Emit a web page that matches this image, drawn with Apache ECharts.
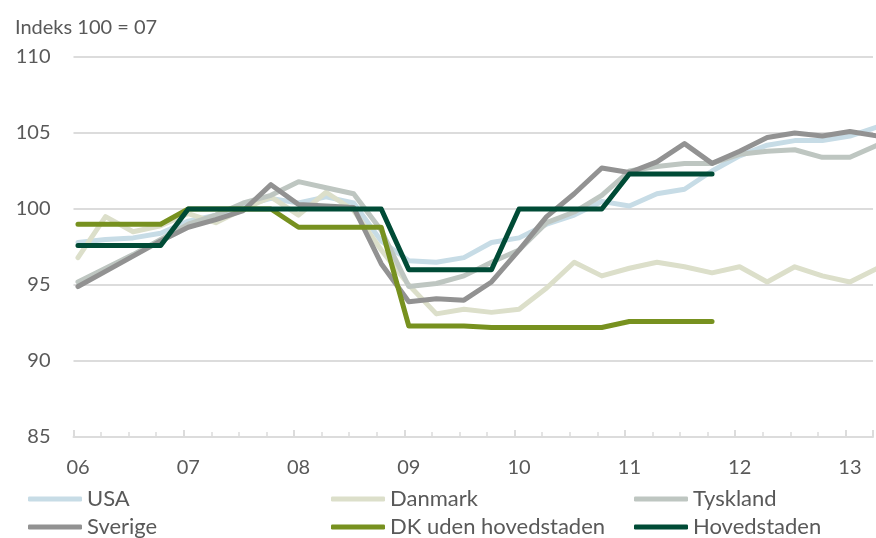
<!DOCTYPE html>
<html><head><meta charset="utf-8">
<script src="https://cdn.jsdelivr.net/npm/echarts@6/dist/echarts.min.js"></script>
<style>html,body{margin:0;padding:0;background:#fff}#c{width:876px;height:538px}</style>
</head><body><div id="c"></div>
<script>
// quarterly observations, 2006 Q1 .. 2013 Q2
const quarters = [
  '06K1','06K2','06K3','06K4','07K1','07K2','07K3','07K4',
  '08K1','08K2','08K3','08K4','09K1','09K2','09K3','09K4',
  '10K1','10K2','10K3','10K4','11K1','11K2','11K3','11K4',
  '12K1','12K2','12K3','12K4','13K1','13K2'
];
const yearLabels = ['06','07','08','09','10','11','12','13'];
const seriesNames = ['USA','Danmark','Tyskland','Sverige','DK uden hovedstaden','Hovedstaden'];

const usa = [97.8,98.0,98.1,98.4,99.2,99.6,100.2,100.7,100.4,100.8,100.4,97.9,96.6,96.5,96.8,97.8,98.1,99.0,99.6,100.5,100.2,101.0,101.3,102.5,103.5,104.2,104.5,104.5,104.8,105.4];
const danmark = [96.8,99.5,98.5,98.9,99.7,99.1,100.0,100.8,99.6,101.1,99.9,97.3,95.0,93.1,93.4,93.2,93.4,94.8,96.5,95.6,96.1,96.5,96.2,95.8,96.2,95.2,96.2,95.6,95.2,96.1];
const tyskland = [95.2,96.1,97.0,98.0,99.0,99.6,100.4,100.9,101.8,101.4,101.0,98.6,94.9,95.1,95.6,96.5,97.3,99.1,99.8,100.9,102.5,102.8,103.0,103.0,103.6,103.8,103.9,103.4,103.4,104.2];
const sverige = [94.9,95.9,96.9,97.9,98.8,99.3,99.9,101.6,100.3,100.2,100.1,96.4,93.9,94.1,94.0,95.2,97.3,99.5,101.0,102.7,102.4,103.1,104.3,103.0,103.8,104.7,105.0,104.8,105.1,104.8];
const dkUden = [99.0,99.0,99.0,99.0,100.0,100.0,100.0,100.0,98.8,98.8,98.8,98.8,92.3,92.3,92.3,92.2,92.2,92.2,92.2,92.2,92.6,92.6,92.6,92.6];
const hovedstaden = [97.6,97.6,97.6,97.6,100.0,100.0,100.0,100.0,100.0,100.0,100.0,100.0,96.0,96.0,96.0,96.0,100.0,100.0,100.0,100.0,102.3,102.3,102.3,102.3];

const yTicks = [85, 90, 95, 100, 105, 110];

const colors = ['#c7dce6','#dcdfca','#bec6c1','#929292','#77911f','#004b36'];
const allData = [usa, danmark, tyskland, sverige, dkUden, hovedstaden];

const FONT = 'Lato';
const TXT = '#595959';
const GRIDC = '#dcdcdc';

const chart = echarts.init(document.getElementById('c'), null, {renderer: 'canvas'});

const series = allData.map((arr, k) => ({
  name: seriesNames[k],
  type: 'line',
  xAxisIndex: 1,
  data: arr.map((v, i) => [i, v]),
  showSymbol: false,
  symbol: 'none',
  smooth: false,
  clip: true,
  lineStyle: {color: colors[k], width: 5, cap: 'round', join: 'round'},
  itemStyle: {color: colors[k]},
  emphasis: {disabled: true},
  animation: false
}));

const legendPos = [
  {left: 28, top: 488}, {left: 331, top: 488}, {left: 634, top: 488},
  {left: 28, top: 516}, {left: 331, top: 516}, {left: 634, top: 516}
];
const legends = seriesNames.map((n, k) => ({
  data: [n],
  left: legendPos[k].left,
  top: legendPos[k].top,
  icon: 'roundRect',
  itemWidth: 54,
  itemHeight: 5,
  padding: 0,
  selectedMode: false,
  textStyle: {color: TXT, fontSize: 22, fontFamily: FONT}
}));

chart.setOption({
  animation: false,
  backgroundColor: '#ffffff',
  textStyle: {fontFamily: FONT},
  title: {
    text: 'Indeks 100 = 07',
    left: 10, top: 13,
    textStyle: {color: TXT, fontSize: 20, fontWeight: 'normal', fontFamily: FONT}
  },
  legend: legends,
  grid: {left: 73.5, top: 57, width: 806.2, height: 380},
  xAxis: [
    {
      type: 'value', min: 0, max: 29, interval: 4,
      axisLine: {show: true, lineStyle: {color: GRIDC, width: 2}},
      axisTick: {show: true, inside: true, length: 7, lineStyle: {color: GRIDC, width: 2}},
      minorTick: {show: true, splitNumber: 4, length: 5, lineStyle: {color: GRIDC, width: 1.5}},
      axisLabel: {
        color: TXT, fontSize: 20, fontFamily: FONT, margin: 21, padding: [0, 0, 0, 9],
        formatter: v => (v % 4 === 0 && yearLabels[v / 4]) ? yearLabels[v / 4] : ''
      },
      splitLine: {show: false}
    },
    {
      type: 'value', min: -0.162, max: 29 - 0.162, show: false
    }
  ],
  yAxis: {
    type: 'value', min: yTicks[0], max: yTicks[yTicks.length - 1], interval: 5,
    axisLine: {show: false}, axisTick: {show: false},
    axisLabel: {color: TXT, fontSize: 20, fontFamily: FONT, margin: 23},
    splitLine: {show: true, lineStyle: {color: GRIDC, width: 2}}
  },
  series: series
});
</script></body></html>
